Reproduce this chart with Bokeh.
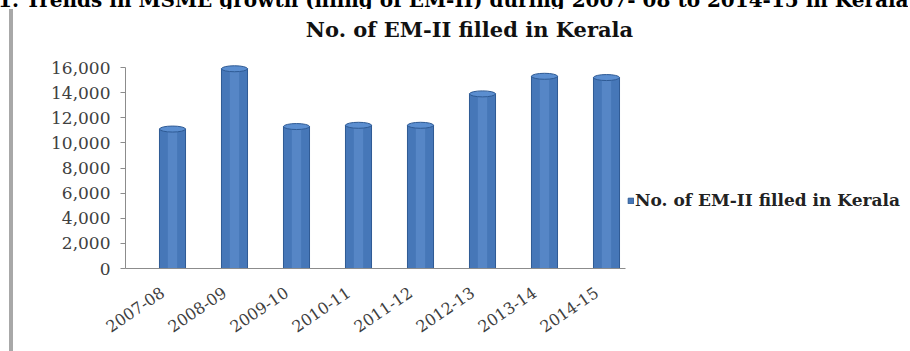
from bokeh.plotting import figure
from bokeh.layouts import row, column
from bokeh.models import (Div, Label, Legend, LegendItem, FixedTicker, CustomJSTickFormatter,
                          NumeralTickFormatter, Range1d, ColumnDataSource)
from bokeh.embed import file_html
from bokeh.resources import INLINE

# ---- data ----
years = ["2007-08", "2008-09", "2009-10", "2010-11", "2011-12", "2012-13", "2013-14", "2014-15"]
em2_filled = [11100, 15900, 11300, 11400, 11400, 13900, 15300, 15200]
y_ticks = [0, 2000, 4000, 6000, 8000, 10000, 12000, 14000, 16000]
series_name = "No. of EM-II filled in Kerala"
chart_title = "No. of EM-II filled in Kerala"
caption = "1. Trends in MSME growth (filing of EM-II) during 2007- 08 to 2014-15 in Kerala"

pos = list(range(len(years)))
src = ColumnDataSource(dict(pos=pos, year=years, val=em2_filled))

# ---- layout constants (page pixels) ----
CAP_H = 9
DIV_W = 13
W, H = 895, 351 - CAP_H
FRAME_L, FRAME_R, FRAME_B, Y_TOP_PX = 125, DIV_W + W - 4, 268, 67
BAND = 62.0
x_start = -(172 - FRAME_L) / BAND
x_end = x_start + (FRAME_R - FRAME_L) / BAND
y_end = 16000 * (FRAME_B - CAP_H) / (FRAME_B - Y_TOP_PX)

p = figure(width=W, height=H, output_backend="svg", toolbar_location=None,
           x_range=Range1d(x_start, x_end), y_range=Range1d(0, y_end),
           min_border_left=FRAME_L - DIV_W, min_border_right=4,
           min_border_top=0, min_border_bottom=H - (FRAME_B - CAP_H))
p.title.visible = False
p.outline_line_color = None
p.background_fill_color = "white"
p.border_fill_color = "white"
p.xgrid.visible = False
p.ygrid.visible = False

bars = p.vbar(x="pos", top="val", width=0.42, source=src,
              fill_color="#4677b8", line_color="#2e5a94", line_width=1)
p.vbar(x="pos", top="val", width=0.15, source=src,
       fill_color="#6a9ad6", fill_alpha=0.45, line_color=None)
p.ellipse(x="pos", y="val", width=0.42, height=6, height_units="screen", source=src,
          fill_color="#5b8ed0", line_color="#2e5a94", line_width=1)

serif = "DejaVu Serif"
# y axis
ya = p.yaxis[0]
ya.ticker = FixedTicker(ticks=y_ticks)
ya.bounds = (y_ticks[0], y_ticks[-1])
ya.formatter = NumeralTickFormatter(format="0,0")
ya.axis_line_color = "#8c8c8c"
ya.major_tick_line_color = "#8c8c8c"
ya.major_tick_out = 5
ya.major_tick_in = 0
ya.minor_tick_line_color = None
ya.major_label_text_font = serif
ya.major_label_text_font_size = "17px"
ya.major_label_text_color = "#404040"
ya.major_label_standoff = 10

# x axis
LABEL_SHIFT = 0.16
xa = p.xaxis[0]
xa.ticker = FixedTicker(ticks=[i - LABEL_SHIFT for i in pos])
xa.formatter = CustomJSTickFormatter(args=dict(labels=years, shift=LABEL_SHIFT),
                                     code="return labels[Math.round(tick + shift)]")
xa.bounds = (x_start, 7.3)
xa.axis_line_color = "#8c8c8c"
xa.major_tick_line_color = None
xa.minor_tick_line_color = None
xa.major_label_orientation = 0.6
xa.major_label_text_font = serif
xa.major_label_text_font_size = "16px"
xa.major_label_text_color = "#404040"
xa.major_label_standoff = 16

# title placed in frame-relative screen units (frame left = page 125, frame bottom = page 268)
p.add_layout(Label(x=469 - FRAME_L, y=FRAME_B - 29, x_units="screen", y_units="screen",
                   text=chart_title, text_font=serif, text_font_style="bold",
                   text_font_size="21px", text_align="center", text_baseline="middle",
                   text_color="#111111"))

legend = Legend(items=[LegendItem(label=series_name, renderers=[bars])],
                location=(627 - FRAME_L, FRAME_B - 210), margin=0, padding=0,
                border_line_color=None, background_fill_alpha=0, glyph_width=7,
                glyph_height=7, label_standoff=1, label_height=16, label_text_font=serif,
                label_text_font_style="bold", label_text_font_size="17px",
                label_text_color="#222222")
p.add_layout(legend, "center")

# cut-off caption line at the very top of the picture
cap = Div(text=caption, width=908, height=CAP_H, margin=0,
          styles={"overflow": "hidden", "white-space": "nowrap", "line-height": "0px",
                  "font-family": "'DejaVu Serif'", "font-weight": "bold",
                  "font-size": "20px", "color": "#000000", "text-indent": "-2px"})
border = Div(width=DIV_W, height=H, margin=0,
             styles={"background": "linear-gradient(90deg, #ffffff 0 9px, #a8a8a8 9px 13px)"})
layout = column(cap, row(border, p, spacing=0), spacing=0)

open("out.html", "w").write(file_html(layout, INLINE))
